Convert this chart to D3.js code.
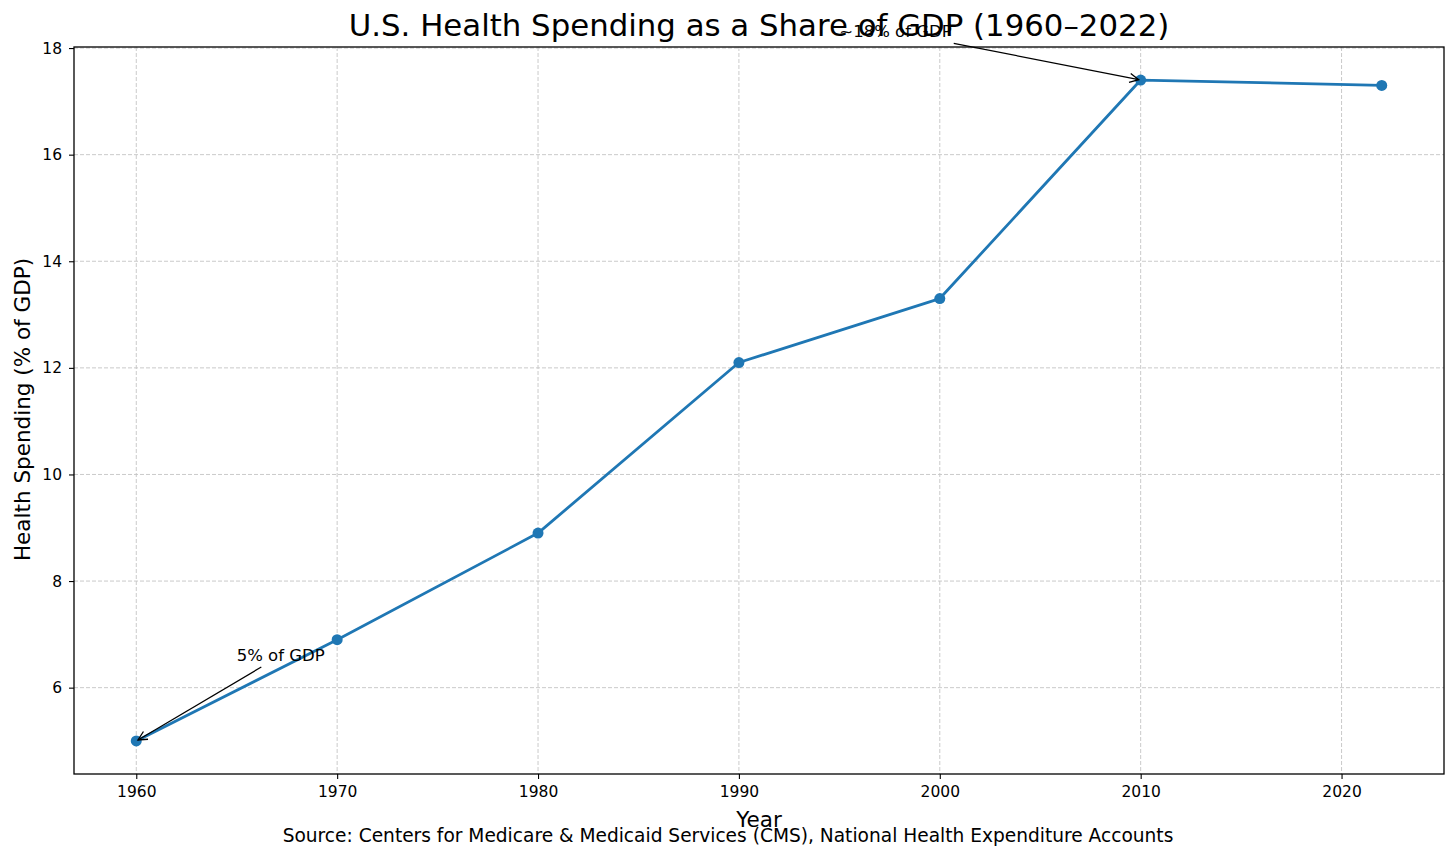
<!DOCTYPE html>
<html>
<head>
<meta charset="utf-8">
<script src="https://cdn.jsdelivr.net/npm/d3@7"></script>
<style>
  body { margin: 0; background: #fff; }
  svg { font-family: "DejaVu Sans", sans-serif; }
</style>
</head>
<body>
<script>
// data
const years = [1960, 1970, 1980, 1990, 2000, 2010, 2022]
const share = [5.0, 6.9, 8.9, 12.1, 13.3, 17.4, 17.3]
const xTicks = [1960, 1970, 1980, 1990, 2000, 2010, 2020]
const yTicks = [6, 8, 10, 12, 14, 16, 18]
const notes = [
  { text: '5% of GDP', year: 1960, value: 5.0, tx: 1965, ty: 6.5 },
  { text: '~18% of GDP', year: 2010, value: 17.4, tx: 1995, ty: 18.2 },
]

const W = 1456, H = 859
const box = { left: 74, right: 1444, top: 47, bottom: 774 }
const COLOR = '#1f77b4'

const svg = d3.select('body').append('svg')
  .attr('width', W).attr('height', H)

const x = d3.scaleLinear()
  .domain([1960 - 3.1, 2022 + 3.1])
  .range([box.left, box.right])
const y = d3.scaleLinear()
  .domain([5.0 - 0.62, 17.4 + 0.62])
  .range([box.bottom, box.top])

svg.append('defs').append('marker')
  .attr('id', 'head')
  .attr('viewBox', '-10 -6 12 12')
  .attr('refX', 0).attr('refY', 0)
  .attr('markerWidth', 12).attr('markerHeight', 12)
  .attr('markerUnits', 'userSpaceOnUse')
  .attr('orient', 'auto')
  .append('path')
  .attr('d', 'M-9,-4.5 L0,0 L-9,4.5')
  .attr('fill', 'none').attr('stroke', '#000').attr('stroke-width', 1.3)

// grid
const grid = svg.append('g')
grid.selectAll('.gx').data(xTicks).enter().append('line')
  .attr('x1', d => x(d)).attr('x2', d => x(d))
  .attr('y1', box.top).attr('y2', box.bottom)
grid.selectAll('.gy').data(yTicks).enter().append('line')
  .attr('y1', d => y(d)).attr('y2', d => y(d))
  .attr('x1', box.left).attr('x2', box.right)
grid.selectAll('line')
  .attr('stroke', '#c4c4c4').attr('stroke-width', 0.9)
  .attr('stroke-dasharray', '4,2')

// axes
const bottomAxis = svg.append('g')
  .attr('transform', `translate(0, ${box.bottom})`)
  .call(d3.axisBottom(x).tickValues(xTicks).tickFormat(d3.format('d')).tickSize(5).tickPadding(7))
const leftAxis = svg.append('g')
  .attr('transform', `translate(${box.left}, 0)`)
  .call(d3.axisLeft(y).tickValues(yTicks).tickSize(5).tickPadding(7))
svg.selectAll('.domain').remove()
svg.selectAll('.tick text').attr('font-size', 15.5).attr('font-family', 'DejaVu Sans').attr('fill', '#000')
svg.selectAll('.tick line').attr('stroke', '#000').attr('stroke-width', 1.1)

// line + points
const pts = years.map((yr, i) => [yr, share[i]])
svg.append('path')
  .datum(pts)
  .attr('fill', 'none')
  .attr('stroke', COLOR)
  .attr('stroke-width', 2.8)
  .attr('stroke-linejoin', 'round')
  .attr('d', d3.line().x(d => x(d[0])).y(d => y(d[1])))
svg.selectAll('.pt').data(pts).enter().append('circle')
  .attr('cx', d => x(d[0])).attr('cy', d => y(d[1]))
  .attr('r', 5.5).attr('fill', COLOR)

// frame
svg.append('rect')
  .attr('x', box.left).attr('y', box.top)
  .attr('width', box.right - box.left).attr('height', box.bottom - box.top)
  .attr('fill', 'none').attr('stroke', '#000').attr('stroke-width', 1.3)

// titles (drawn before the annotations, which sit on top)
svg.append('text')
  .attr('x', (box.left + box.right) / 2).attr('y', 36)
  .attr('text-anchor', 'middle').attr('font-size', 30.8)
  .text('U.S. Health Spending as a Share of GDP (1960–2022)')
svg.append('text')
  .attr('x', (box.left + box.right) / 2).attr('y', 827)
  .attr('text-anchor', 'middle').attr('font-size', 21.5)
  .text('Year')
svg.append('text')
  .attr('transform', `translate(30, ${(box.top + box.bottom) / 2 - 1}) rotate(-90)`)
  .attr('text-anchor', 'middle').attr('font-size', 21.5)
  .text('Health Spending (% of GDP)')
svg.append('text')
  .attr('x', W / 2).attr('y', 842)
  .attr('text-anchor', 'middle').attr('font-size', 18.6)
  .text('Source: Centers for Medicare & Medicaid Services (CMS), National Health Expenditure Accounts')

// annotations
notes.forEach(n => {
  const t = svg.append('text')
    .attr('x', x(n.tx)).attr('y', y(n.ty))
    .attr('font-size', 16.5).attr('fill', '#000')
    .text(n.text)
  const b = t.node().getBBox()
  const cx = b.x + b.width / 2, cy = b.y + b.height / 2
  const tx = x(n.year), ty = y(n.value)
  const dx = tx - cx, dy = ty - cy
  // clip start at text box edge
  const hw = b.width / 2 + 2, hh = b.height / 2 + 2
  const s = Math.min(hw / Math.abs(dx), hh / Math.abs(dy))
  const len = Math.hypot(dx, dy)
  const e = 1 - 2 / len
  svg.append('line')
    .attr('x1', cx + dx * s).attr('y1', cy + dy * s)
    .attr('x2', cx + dx * e).attr('y2', cy + dy * e)
    .attr('stroke', '#000').attr('stroke-width', 1.3)
    .attr('marker-end', 'url(#head)')
})
</script>
</body>
</html>
